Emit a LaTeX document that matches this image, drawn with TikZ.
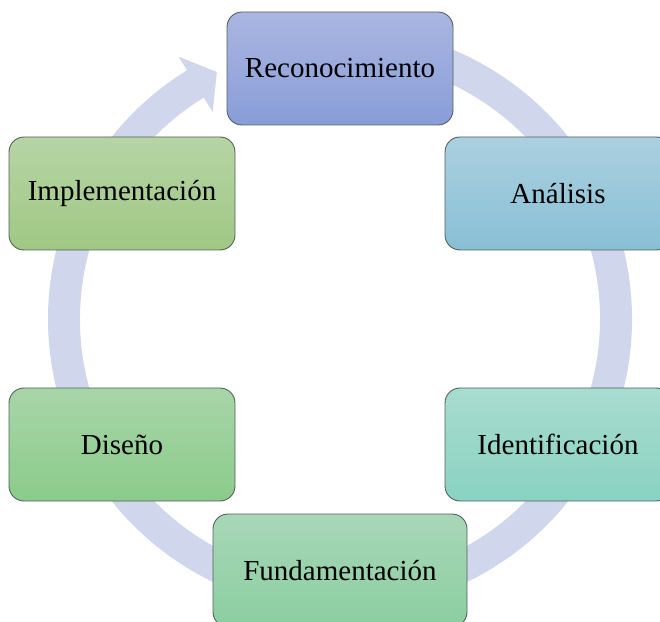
\documentclass[tikz,border=0pt]{standalone}
\usepackage{fontspec}
\setmainfont{Liberation Serif}
\begin{document}
\begin{tikzpicture}[x=1pt,y=1pt,
  stage/.style={draw=borderc, line width=0.9pt, rounded corners=15pt,
    minimum width=226pt, minimum height=113pt, inner sep=0pt,
    font=\fontsize{29}{34}\selectfont, text=black},
  ringfill/.style={fill=ringc}]
\definecolor{borderc}{RGB}{85,95,92}
\definecolor{ringc}{RGB}{208,214,236}
\definecolor{recT}{RGB}{170,182,225}\definecolor{recB}{RGB}{136,157,216}
\definecolor{anaT}{RGB}{171,208,224}\definecolor{anaB}{RGB}{136,191,213}
\definecolor{ideT}{RGB}{168,220,208}\definecolor{ideB}{RGB}{137,210,193}
\definecolor{funT}{RGB}{168,215,184}\definecolor{funB}{RGB}{139,206,160}
\definecolor{disT}{RGB}{168,213,168}\definecolor{disB}{RGB}{139,203,138}
\definecolor{impT}{RGB}{182,212,165}\definecolor{impB}{RGB}{160,200,132}
\useasboundingbox (0,0) rectangle (660,621);
\clip (0,0) rectangle (660,621);
\begin{scope}[shift={(340,302)}]
\fill[ringfill] (95:292) arc[start angle=95, end angle=-238.4, radius=292]
  -- (-238.4:308) -- (-243.5:276) -- (-238.4:243) -- (-238.4:260)
  arc[start angle=-238.4, end angle=95, radius=260] -- cycle;
\end{scope}
\node[stage, top color=recT, bottom color=recB] (rec) at (340,552.5) {Reconocimiento};
\node[stage, top color=anaT, bottom color=anaB] (ana) at (558,427.5) {Análisis};
\node[stage, top color=ideT, bottom color=ideB] (ide) at (558,176.5) {Identificación};
\node[stage, minimum width=254pt, top color=funT, bottom color=funB] (fun) at (340,50.5) {Fundamentación};
\node[stage, top color=disT, bottom color=disB] (dis) at (122,176.5) {Diseño};
\node[stage, top color=impT, bottom color=impB] (imp) at (122,427.5) {Implementación};
\end{tikzpicture}
\end{document}
